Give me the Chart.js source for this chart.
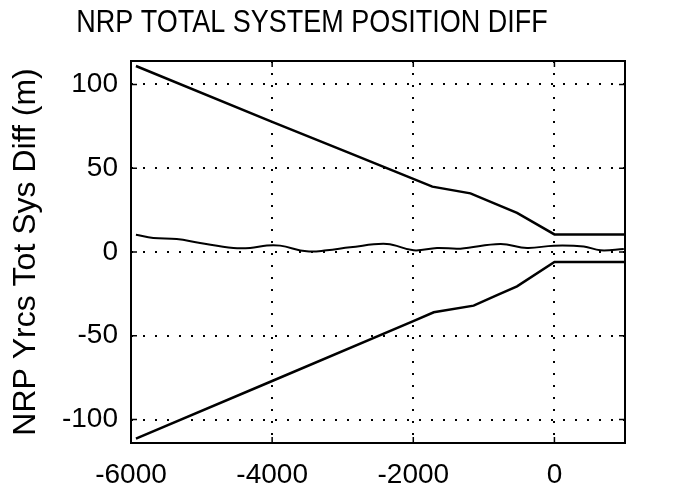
<!DOCTYPE html>
<html>
<head>
<meta charset="utf-8">
<script src="https://cdn.jsdelivr.net/npm/chart.js@4.4.1/dist/chart.umd.min.js"></script>
<style>
    body { margin: 0; background: #fff; }
    #wrap { width: 681px; height: 490px; }
</style>
</head>
<body>
<div id="wrap"><canvas id="diff-chart" width="681" height="490"></canvas></div>
<script>
    // Chart data
    var upperX = [-5930, -4000, -2900, -2000, -1730, -1190, -861, -530, 0, 1000];
    var upperY = [111, 77.7, 59, 43.6, 39, 35, 29.2, 23.3, 10.5, 10.5];

    var lowerX = [-5930, -4000, -2000, -1710, -1145, -813, -530, 0, 1000];
    var lowerY = [-111.4, -77, -41.3, -36, -32, -25.7, -20.5, -6, -6];

    var middleX = [-5930, -5684, -5352, -5021, -4549, -4312, -4075, -3887, -3509, -3225, -2894,
                   -2373, -1996, -1664, -1333, -766, -388, -10, 416, 652, 983];
    var middleY = [10.3, 8.4, 7.8, 5.4, 2.4, 2.4, 3.9, 3.8, 0.4, 1.0, 2.8,
                   4.8, 1.0, 2.4, 2.0, 4.8, 2.4, 3.8, 3.3, 1.0, 1.8];

    var xTicks = [-6000, -4000, -2000, 0];
    var yTicks = [-100, -50, 0, 50, 100];

    var titleText = "NRP TOTAL SYSTEM POSITION DIFF";
    var yLabel = "NRP Yrcs Tot Sys Diff (m)";

    var FONT = "'Liberation Sans', Arial, sans-serif";

    function toPoints(xs, ys) {
        return xs.map(function (x, i) { return { x: x, y: ys[i] }; });
    }

    // Title, plot frame and inward tick marks
    var framePlugin = {
        id: "frame",
        afterDraw: function (chart) {
            var ctx = chart.ctx;
            var a = chart.chartArea;
            var sx = chart.scales.x, sy = chart.scales.y;
            ctx.save();
            ctx.strokeStyle = "#000";
            ctx.lineWidth = 2;
            ctx.strokeRect(a.left, a.top, a.right - a.left, a.bottom - a.top);
            ctx.beginPath();
            xTicks.forEach(function (v) {
                var px = sx.getPixelForValue(v);
                ctx.moveTo(px, a.top); ctx.lineTo(px, a.top + 6);
                ctx.moveTo(px, a.bottom); ctx.lineTo(px, a.bottom - 6);
            });
            yTicks.forEach(function (v) {
                var py = sy.getPixelForValue(v);
                ctx.moveTo(a.left, py); ctx.lineTo(a.left + 6, py);
                ctx.moveTo(a.right, py); ctx.lineTo(a.right - 6, py);
            });
            ctx.lineWidth = 1.5;
            ctx.stroke();

            ctx.fillStyle = "#000";
            ctx.font = "27px " + FONT;
            ctx.textAlign = "center";
            ctx.textBaseline = "middle";
            ctx.translate(312, 23);
            ctx.scale(1, 1.18);
            ctx.fillText(titleText, 0, 0);
            ctx.restore();
        }
    };

    var ctx = document.getElementById("diff-chart").getContext("2d");
    new Chart(ctx, {
        type: "line",
        data: {
            datasets: [{
                data: toPoints(upperX, upperY),
                borderColor: "#000",
                borderWidth: 2.5,
                pointRadius: 0,
                tension: 0
            },
            {
                data: toPoints(middleX, middleY),
                borderColor: "#000",
                borderWidth: 2,
                pointRadius: 0,
                tension: 0.4
            },
            {
                data: toPoints(lowerX, lowerY),
                borderColor: "#000",
                borderWidth: 2.5,
                pointRadius: 0,
                tension: 0
            }]
        },
        options: {
            responsive: false,
            animation: false,
            layout: { padding: { top: 61, right: 56, left: 0, bottom: 0 } },
            plugins: {
                legend: { display: false },
                tooltip: { enabled: false },
                title: { display: false }
            },
            scales: {
                x: {
                    type: "linear",
                    min: -6000,
                    max: 1000,
                    afterBuildTicks: function (scale) {
                        scale.ticks = xTicks.map(function (v) { return { value: v }; });
                    },
                    afterFit: function (scale) { scale.height = 47; },
                    grid: {
                        color: "#000",
                        lineWidth: 2,
                        drawTicks: false
                    },
                    border: { display: false, dash: [2, 10] },
                    ticks: {
                        color: "#000",
                        padding: 15,
                        maxRotation: 0,
                        font: { family: FONT, size: 28 },
                        callback: function (v) { return String(v); }
                    }
                },
                y: {
                    min: -114,
                    max: 114,
                    afterBuildTicks: function (scale) {
                        scale.ticks = yTicks.map(function (v) { return { value: v }; });
                    },
                    afterFit: function (scale) { scale.width = 131; },
                    grid: {
                        color: "#000",
                        lineWidth: 2,
                        drawTicks: false
                    },
                    border: { display: false, dash: [2, 10] },
                    ticks: {
                        color: "#000",
                        padding: 13,
                        font: { family: FONT, size: 28 },
                        callback: function (v) { return String(v); }
                    },
                    title: {
                        display: true,
                        text: yLabel,
                        color: "#000",
                        padding: { top: 7, bottom: 0 },
                        font: { family: FONT, size: 32 }
                    }
                }
            }
        },
        plugins: [framePlugin]
    });
</script>
</body>
</html>
